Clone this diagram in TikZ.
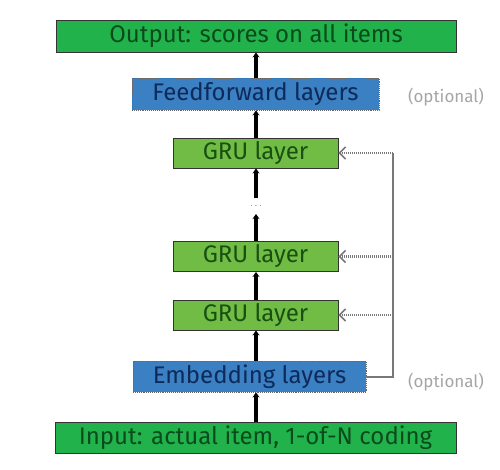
\documentclass[tikz,border=0pt]{standalone}
\usepackage{fontspec}
\setmainfont{Fira Sans}
\usetikzlibrary{arrows.meta,positioning}
\definecolor{iogreen}{RGB}{34,178,76}
\definecolor{iotext}{RGB}{10,75,28}
\definecolor{grugreen}{RGB}{112,188,68}
\definecolor{grutext}{RGB}{25,80,18}
\definecolor{ffblue}{RGB}{58,128,194}
\definecolor{fftext}{RGB}{14,42,90}
\definecolor{optgray}{RGB}{165,165,165}
\definecolor{dotgray}{RGB}{120,120,120}
\tikzset{
  iobox/.style={draw=black!80,line width=0.9pt,fill=iogreen,text=iotext,inner sep=0pt,font=\fontsize{24}{25}\selectfont},
  grubox/.style={draw=black!80,line width=0.9pt,fill=grugreen,text=grutext,inner sep=0pt,minimum width=165pt,minimum height=30pt,font=\fontsize{24}{25}\selectfont},
  bluebox/.style={draw=black!60,densely dotted,line width=0.9pt,fill=ffblue,text=fftext,inner sep=0pt,font=\fontsize{24}{25}\selectfont},
  flow/.style={line width=3.8pt,-{Stealth[length=5pt,width=7pt]}},
  rec/.style={dotgray,dash pattern=on 1.2pt off 0.8pt,line width=2.2pt},
  recarrow/.style={rec,-{Straight Barb[length=6pt,width=12pt,line width=1.6pt]}},
  opt/.style={text=optgray,font=\fontsize{17}{18}\selectfont}
}
\begin{document}
\begin{tikzpicture}[x=1pt,y=-1pt]
\useasboundingbox (0,0) rectangle (500,470);
\node[iobox,minimum width=400pt,minimum height=32pt] (out) at (256,36) {Output: scores on all items};
\node[bluebox,minimum width=247pt,minimum height=32pt] (ff) at (255.5,94) {Feedforward layers};
\node[grubox] (gru1) at (255.5,153) {GRU layer};
\node[grubox] (gru2) at (255.5,256.5) {GRU layer};
\node[grubox] (gru3) at (255.5,315) {GRU layer};
\node[bluebox,minimum width=233pt,minimum height=31pt] (emb) at (249.5,376.5) {Embedding layers};
\node[iobox,minimum width=401pt,minimum height=31pt] (in) at (255.5,437.5) {Input: actual item, 1-of-N coding};
\node[opt] (opt1) at (446,97) {(optional)};
\node[opt] (opt2) at (446,382) {(optional)};
\node[text=dotgray,inner sep=0pt,font=\fontsize{10}{10}\selectfont] (dots) at (256,206) {$\cdots$};
\coordinate (dtop) at (256,198);
\coordinate (dbot) at (256,214);
% main flow
\draw[flow] (in.north -| 256,0) -- (emb.south -| 256,0);
\draw[flow] (emb.north -| 256,0) -- (gru3.south -| 256,0);
\draw[flow] (gru3.north -| 256,0) -- (gru2.south -| 256,0);
\draw[flow] (gru2.north -| 256,0) -- (dbot);
\draw[flow] (dtop) -- (gru1.south -| 256,0);
\draw[flow] (gru1.north -| 256,0) -- (ff.south -| 256,0);
\draw[flow] (ff.north -| 256,0) -- (out.south -| 256,0);
% recurrent / embedding connections
\coordinate (vb) at (393,377);
\coordinate (vt) at (393,153);
\draw[rec] (emb.east |- vb) -- (vb) -- (vt);
\draw[recarrow] (vt) -- (gru1.east);
\draw[recarrow] (393,256.5) -- (gru2.east);
\draw[recarrow] (393,315) -- (gru3.east);
\end{tikzpicture}
\end{document}
